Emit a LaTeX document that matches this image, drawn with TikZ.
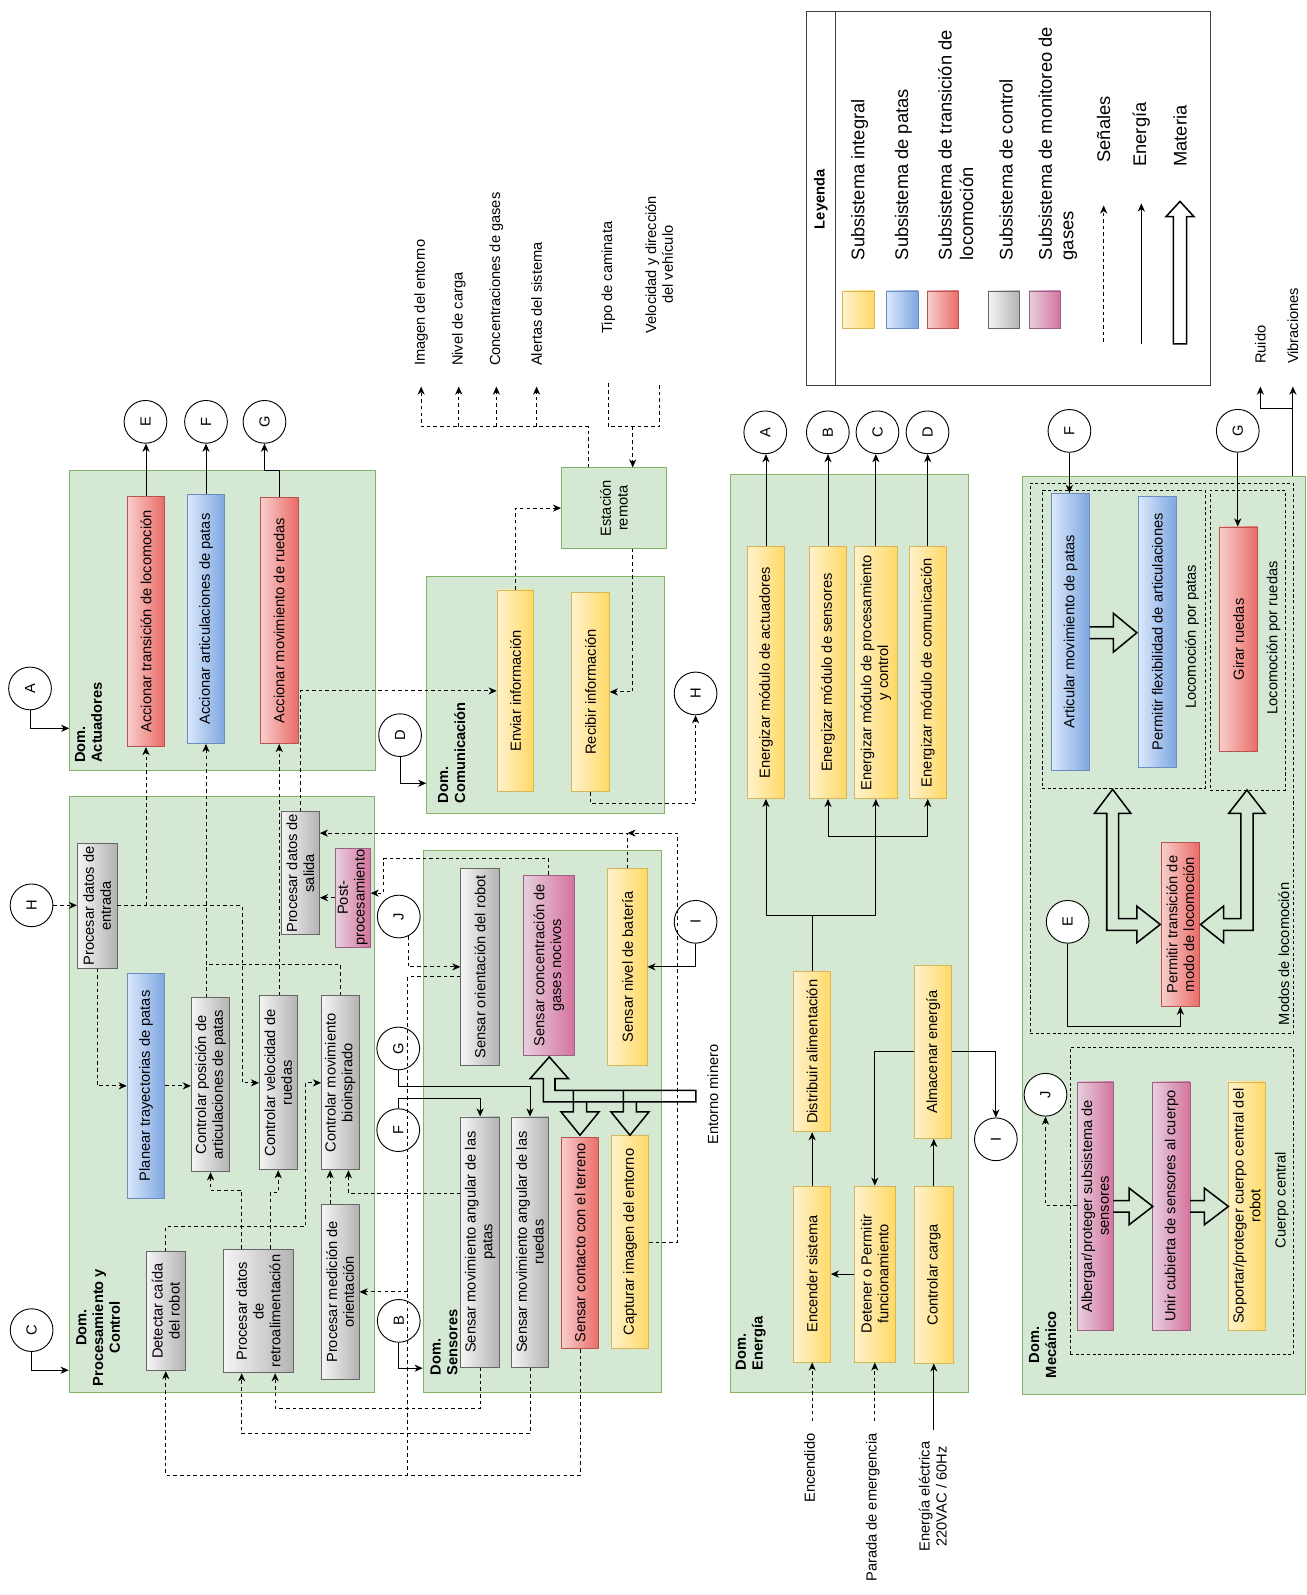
\documentclass[tikz,border=0pt]{standalone}
\usepackage{fontspec}
\setmainfont{Liberation Sans}
\usepackage{graphicx}
\usetikzlibrary{arrows.meta}

\definecolor{domF}{HTML}{D5E8D4}\definecolor{domB}{HTML}{82B366}
\definecolor{yelA}{HTML}{FFF2CC}\definecolor{yelB}{HTML}{FFD966}\definecolor{yelD}{HTML}{D6B656}
\definecolor{redA}{HTML}{F8CECC}\definecolor{redB}{HTML}{EA6B66}\definecolor{redD}{HTML}{B85450}
\definecolor{bluA}{HTML}{DAE8FC}\definecolor{bluB}{HTML}{7EA6E0}\definecolor{bluD}{HTML}{6C8EBF}
\definecolor{gryA}{HTML}{F5F5F5}\definecolor{gryB}{HTML}{B3B3B3}\definecolor{gryD}{HTML}{666666}
\definecolor{pnkA}{HTML}{E6D0DE}\definecolor{pnkB}{HTML}{D5739D}\definecolor{pnkD}{HTML}{996185}

\newcommand\fsn{\fontsize{14.4}{16.5}\selectfont}
\newcommand\fsl{\fontsize{18}{21}\selectfont}

\tikzset{
  fnb/.style={rotate=90, draw, line width=0.8pt, align=center, font=\fsn, inner sep=1pt},
  fYel/.style={fnb, draw=yelD, left color=yelA, right color=yelB},
  fRed/.style={fnb, draw=redD, left color=redA, right color=redB},
  fBlu/.style={fnb, draw=bluD, left color=bluA, right color=bluB},
  fGry/.style={fnb, draw=gryD, left color=gryA, right color=gryB},
  fPnk/.style={fnb, draw=pnkD, left color=pnkA, right color=pnkB},
  dom/.style={draw=domB, fill=domF, line width=0.9pt, inner sep=0pt},
  grp/.style={draw=black, dash pattern=on 3pt off 2.5pt, line width=0.8pt, inner sep=0pt},
  circ/.style={circle, draw, fill=white, line width=0.9pt, minimum size=42pt, inner sep=0pt, font=\fsn},
  sig/.style={line width=0.9pt, dash pattern=on 3.5pt off 3pt},
  en/.style={line width=0.9pt},
  arr/.style={-{Stealth[length=8pt,width=7pt,inset=2.5pt]}},
  mat/.style={line width=1.5pt, line join=miter},
  txt/.style={rotate=90, font=\fsn, inner sep=0pt, align=center},
  dlab/.style={rotate=90, font=\fsn\bfseries, inner sep=0pt},
}

% function box: name, style, centre x, centre y, length (vertical), thickness (horizontal), text
\newcommand\FunBox[7]{\node[#2, minimum width=#5pt, minimum height=#6pt] (#1) at (#3,#4) {#7};}

\begin{document}
\begin{tikzpicture}[x=1pt, y=-1pt]
\useasboundingbox (0,0) rectangle (1284,1568);
\fill[white] (0,0) rectangle (1284,1568);

% ---------------- domains ----------------
\node[dom, minimum width=300.5pt, minimum height=295pt] (domAct) at (218.75,609.5) {};
\node[dom, minimum width=300pt, minimum height=586pt] (domProc) at (218,1076) {};
\node[dom, minimum width=233.5pt, minimum height=233pt] (domCom) at (536.25,683.5) {};
\node[dom, minimum width=234pt, minimum height=533pt] (domSen) at (533,1102.5) {};
\node[dom, minimum width=234pt, minimum height=903pt] (domEne) at (835,917.5) {};
\node[dom, minimum width=278pt, minimum height=903pt] (domMec) at (1144,919.5) {};
\node[dom, rotate=90, minimum width=79pt, minimum height=103pt, font=\fsn, align=center] (station) at (603.5,499.5) {Estación\\remota};

% groups inside the mechanical domain
\node[grp, minimum width=258.9pt, minimum height=540.8pt] (gModos) at (1142.15,745.6) {};
\node[grp, minimum width=160.5pt, minimum height=293pt] (gPatas) at (1104.55,628.5) {};
\node[grp, minimum width=73.8pt, minimum height=294.6pt] (gRuedas) at (1226.6,629.3) {};
\node[grp, minimum width=219.6pt, minimum height=301.6pt] (gCuerpo) at (1161.8,1180.6) {};

% domain titles
\node[dlab, align=left, anchor=west] at (87,750) {Dom.\\Actuadores};
\node[dlab, align=center] at (96.5,1305) {Dom.\\Procesamiento y\\Control};
\node[dlab, align=left, anchor=west] at (444,790) {Dom.\\Comunicación};
\node[dlab, align=left, anchor=west] at (436.5,1352) {Dom.\\Sensores};
\node[dlab, align=left, anchor=west] at (738,1347) {Dom.\\Energía};
\node[dlab, align=center] at (1025,1322) {Dom.\\Mecánico};

% group titles
\node[txt, anchor=west] at (1262,1008) {Modos de locomoción};
\node[txt] at (1171.7,626) {Locomoción por patas};
\node[txt] at (1252,627) {Locomoción por ruedas};
\node[txt] at (1260,1180) {Cuerpo central};

% ---------------- function boxes ----------------
% actuators
\FunBox{aTrans}{fRed}{143.5}{611}{246}{37}{Accionar transición de locomoción}
\FunBox{aArt}{fBlu}{202.5}{608.5}{245}{37}{Accionar articulaciones de patas}
\FunBox{aRue}{fRed}{274.5}{610}{242}{37}{Accionar movimiento de ruedas}
% processing and control
\FunBox{pEnt}{fGry}{95.5}{890.5}{123}{39}{Procesar datos de\\entrada}
\FunBox{pPlan}{fBlu}{143.5}{1067.5}{221}{37}{Planear trayectorias de patas}
\FunBox{pPos}{fGry}{207}{1066.5}{171}{38}{Controlar posición de\\articulaciones de patas}
\FunBox{pVel}{fGry}{273.5}{1064.5}{171}{37}{Controlar velocidad de\\ruedas}
\FunBox{pBio}{fGry}{334.5}{1064.5}{171}{37}{Controlar movimiento\\bioinspirado}
\FunBox{pSal}{fGry}{295.3}{858.5}{121}{37.5}{Procesar datos de\\salida}
\FunBox{pPost}{fPnk}{346.8}{882.5}{97}{34.5}{Post-\\procesamiento}
\FunBox{pCaida}{fGry}{163}{1289}{117}{38}{Detectar caída\\del robot}
\FunBox{pRetro}{fGry}{254}{1288.8}{121.6}{68}{Procesar datos\\de\\retroalimentación}
\FunBox{pMed}{fGry}{334.5}{1270}{172}{37}{Procesar medición de\\orientación}
% communication
\FunBox{cEnv}{fYel}{506.7}{679.2}{198.4}{36}{Enviar información}
\FunBox{cRec}{fYel}{580.5}{680.2}{196.4}{37}{Recibir información}
% sensors
\FunBox{sOri}{fGry}{472}{950.5}{193}{38}{Sensar orientación del robot}
\FunBox{sGas}{fPnk}{539.5}{948.9}{177}{50}{Sensar concentración de\\gases nocivos}
\FunBox{sBat}{fYel}{616.8}{950.5}{193}{38.5}{Sensar nivel de batería}
\FunBox{sPat}{fGry}{472}{1221}{246}{38}{Sensar movimiento angular de las\\patas}
\FunBox{sRue}{fGry}{521}{1221}{246}{37}{Sensar movimiento angular de las\\ruedas}
\FunBox{sCon}{fRed}{570.2}{1221.8}{208}{37}{Sensar contacto con el terreno}
\FunBox{sCap}{fYel}{619.3}{1221}{210}{37}{Capturar imagen del entorno}
% energy
\FunBox{eAct}{fYel}{753}{661.25}{247.5}{36}{Energizar módulo de actuadores}
\FunBox{eSen}{fYel}{814}{661.25}{247.5}{36}{Energizar módulo de sensores}
\FunBox{eProc}{fYel}{861}{661.25}{247.5}{42}{Energizar módulo de procesamiento\\y control}
\FunBox{eCom}{fYel}{912}{661.25}{247.5}{36}{Energizar módulo de comunicación}
\FunBox{eDist}{fYel}{798.4}{1034}{157.3}{36}{Distribuir alimentación}
\FunBox{eAlm}{fYel}{917.4}{1034}{170.4}{36.7}{Almacenar energía}
\FunBox{eEnc}{fYel}{798.4}{1252.5}{173}{36}{Encender sistema}
\FunBox{eDet}{fYel}{860}{1252.5}{173}{40}{Detener o Permitir\\funcionamiento}
\FunBox{eCar}{fYel}{918}{1253}{174}{38}{Controlar carga}
% mechanical
\FunBox{mArt}{fBlu}{1052.5}{621}{272}{37}{Articular movimiento de patas}
\FunBox{mFlex}{fBlu}{1137.8}{621}{266}{37}{Permitir flexibilidad de articulaciones}
\FunBox{mGir}{fRed}{1217.6}{628.5}{221}{37.3}{Girar ruedas}
\FunBox{mTra}{fRed}{1160.4}{908.9}{160.7}{37.6}{Permitir transición de\\modo de locomoción}
\FunBox{mAlb}{fPnk}{1076.7}{1185.7}{244.2}{36}{Albergar/proteger subsistema de\\sensores}
\FunBox{mUni}{fPnk}{1151.7}{1185.7}{244.2}{36.7}{Unir cubierta de sensores al cuerpo}
\FunBox{mSop}{fYel}{1225.7}{1185.7}{244.2}{36.2}{Soportar/proteger cuerpo central del\\robot}

% ---------------- off-page connectors ----------------
\node[circ] (cA1) at (29.5,676.8) {\rotatebox{90}{A}};
\node[circ] (cC1) at (31.1,1307.6) {\rotatebox{90}{C}};
\node[circ] (cH1) at (31,890) {\rotatebox{90}{H}};
\node[circ] (cE1) at (143,414.7) {\rotatebox{90}{E}};
\node[circ] (cF1) at (202.5,414.7) {\rotatebox{90}{F}};
\node[circ] (cG1) at (260,414.7) {\rotatebox{90}{G}};
\node[circ] (cD1) at (393.3,722.7) {\rotatebox{90}{D}};
\node[circ] (cJ1) at (392,901) {\rotatebox{90}{J}};
\node[circ] (cG2) at (391.5,1030.7) {\rotatebox{90}{G}};
\node[circ] (cF2) at (391.5,1111) {\rotatebox{90}{F}};
\node[circ] (cB1) at (392,1298.5) {\rotatebox{90}{B}};
\node[circ] (cH2) at (683.8,681.7) {\rotatebox{90}{H}};
\node[circ] (cI1) at (683.8,906.2) {\rotatebox{90}{I}};
\node[circ] (cA2) at (752.3,425) {\rotatebox{90}{A}};
\node[circ] (cB2) at (813.8,425) {\rotatebox{90}{B}};
\node[circ] (cC2) at (862.6,425) {\rotatebox{90}{C}};
\node[circ] (cD2) at (911.8,425) {\rotatebox{90}{D}};
\node[circ] (cI2) at (979,1120) {\rotatebox{90}{I}};
\node[circ] (cF3) at (1051.3,423.6) {\rotatebox{90}{F}};
\node[circ] (cG3) at (1216.8,423.5) {\rotatebox{90}{G}};
\node[circ] (cE3) at (1049.6,906.2) {\rotatebox{90}{E}};
\node[circ] (cJ3) at (1027.8,1076.2) {\rotatebox{90}{J}};

% ---------------- external inputs and outputs ----------------
\node[txt, anchor=west] (oImg) at (414,360) {Imagen del entorno};
\node[txt, anchor=west] (oNiv) at (451,360) {Nivel de carga};
\node[txt, anchor=west] (oCon) at (488,360) {Concentraciones de gases};
\node[txt, anchor=west] (oAle) at (527.5,360) {Alertas del sistema};
\node[txt, anchor=west] (iTip) at (598,328) {Tipo de caminata};
\node[txt, anchor=west] (iVel) at (648,328) {Velocidad y dirección\\del vehículo};
\node[txt, anchor=west] (oRui) at (1239,358) {Ruido};
\node[txt, anchor=west] (oVib) at (1271,358) {Vibraciones};
\node[txt, anchor=east] (iEnc) at (796,1409) {Encendido};
\node[txt, anchor=east] (iPar) at (858,1409) {Parada de emergencia};
\node[txt, anchor=east] (iEle) at (917,1417) {Energía eléctrica\\220VAC / 60Hz};
\node[txt] (envMin) at (700.7,1076) {Entorno minero};

% ---------------- connectors: actuators ----------------
\draw[en,arr] (aTrans.east) -- (aTrans.east |- cE1.south);
\draw[en,arr] (aArt.east) -- (aArt.east |- cF1.south);
\draw[en,arr] (aRue.east) -- (aRue.east |- 0,462) -| (cG1.south);
\draw[en,arr] (cA1.south) |- (domAct.west |- 0,716);
\draw[en,arr] (cC1.south) |- (domProc.west |- 0,1347);
\draw[en,arr] (cD1.south) |- (domCom.west |- 0,770);
\draw[en,arr] (cB1.south) |- (domSen.west |- 0,1345);

% ---------------- connectors: processing ----------------
\draw[sig,arr] (cH1.east) -- (pEnt.north |- cH1.east);
\draw[sig,arr] (pEnt.south) -- (238,890.5) |- (pVel.north);
\draw[sig,arr] (aTrans.west |- pEnt.south) -- (aTrans.west);
\draw[sig,arr] (pEnt.west) |- (pPlan.north);
\draw[sig,arr] (pPlan.south) -- (pPos.north |- pPlan.south);
\draw[sig,arr] (aArt.west |- pPos.east) -- (aArt.west);
\draw[sig] (pBio.east) |- (aArt.west |- 0,948);
\draw[sig,arr] (aRue.west |- pVel.east) -- (aRue.west);
\draw[sig,arr] (pSal.east) |- (cEnv.north);
\draw[sig,arr] (pRetro.east -| 237.6,0) -- (237.6,1170) -| (pPos.west);
\draw[sig,arr] (pRetro.east -| 266,0) -- (266,1172) -| (pVel.west);
\draw[sig,arr] (pCaida.east) |- (300,1206) |- (pBio.north);
\draw[sig,arr] (pMed.east -| 324.5,0) -- (pBio.west -| 324.5,0);
\draw[sig,arr] (pPost.north) -- (pSal.south |- pPost.north);

% ---------------- connectors: sensors ----------------
\draw[sig,arr] (sPat.north |- 0,1173) -| (pBio.west -| 342.5,0);
\draw[sig,arr] (sPat.west) |- (270.5,1384.6) -- (pRetro.west -| 270.5,0);
\draw[sig,arr] (sRue.west) |- (237.6,1409) -- (pRetro.west -| 237.6,0);
\draw[sig,arr] (sCon.west) |- (163,1450) -- (pCaida.west);
\draw[sig] (sOri.north |- 0,960) -| (401,1450);
\draw[sig,arr] (401,1270) -- (pMed.south);
\draw[sig,arr] (cJ1.-65) |- (sOri.north |- 0,950.5);
\draw[en,arr] (cG2.south) |- (sRue.east |- 0,1068) -- (sRue.east);
\draw[en,arr] (cF2.north) |- (sPat.east |- 0,1080) -- (sPat.east);
\draw[en,arr] (cI1.south) |- (sBat.south |- 0,950.5);
\draw[sig,arr] (sGas.east) |- (377,844) |- (pPost.south |- 0,878);
\draw[sig,arr] (sBat.east) |- (pSal.south |- 0,819);
\draw[sig,arr] (sCap.south) -| (666,819) -- (sBat.east |- 0,819);

% material from the mining environment
\draw[mat] (684,1071.8) -- (545.6,1071.8) -- (545.6,1060.3) -- (558.8,1060.3) -- (540,1039) -- (521.2,1060.3) -- (534.2,1060.3) -- (534.2,1083.2) -- (684,1083.2) -- cycle;
\draw[mat] (563.7,1071.8) -- (563.7,1093) -- (551.5,1093) -- (570.2,1116) -- (588.9,1093) -- (576.7,1093) -- (576.7,1083.2);
\draw[mat] (612.9,1071.8) -- (612.9,1093) -- (600.6,1093) -- (619.3,1116) -- (638,1093) -- (625.7,1093) -- (625.7,1083.2);

% ---------------- connectors: communication ----------------
\draw[sig,arr] (cEnv.east) |- (station.north);
\draw[sig,arr] (station.west -| 622,0) |- (cRec.south);
\draw[sig,arr] (cRec.west) |- (cH2.south |- 0,790) -- (cH2.south);
\draw[sig,arr] (station.east -| 578,0) |- (414,419.5) -- ([yshift=-20pt]oImg.west);
\draw[sig,arr] (oNiv.west |- 0,419.5) -- ([yshift=-20pt]oNiv.west);
\draw[sig,arr] (oCon.west |- 0,419.5) -- ([yshift=-20pt]oCon.west);
\draw[sig,arr] (oAle.west |- 0,419.5) -- ([yshift=-20pt]oAle.west);
\draw[sig] ([yshift=-49pt]iTip.west) |- (iVel.west |- 0,419.5) -- ([yshift=-49pt]iVel.west);
\draw[sig,arr] (622,419.5) -- (station.east -| 622,0);

% ---------------- connectors: energy ----------------
\draw[en,arr] (eAct.east) -- (eAct.east |- cA2.south);
\draw[en,arr] (eSen.east) -- (eSen.east |- cB2.south);
\draw[en,arr] (eProc.east) -- (eProc.east |- cC2.south);
\draw[en,arr] (eCom.east) -- (eCom.east |- cD2.south);
\draw[en] (eDist.east) -- (eDist.east |- 0,899.7);
\draw[en,arr] (eDist.east |- 0,899.7) -| (eAct.west);
\draw[en,arr] (eDist.east |- 0,899.7) -| (eProc.west);
\draw[en,arr] (eProc.west |- 0,822.7) -| (eSen.west);
\draw[en,arr] (eProc.west |- 0,822.7) -| (eCom.west);
\draw[en,arr] (eEnc.east) -- (eDist.west);
\draw[en,arr] (eCar.east) -- (eCar.east |- eAlm.west);
\draw[en,arr] (eAlm.north) -| (eDet.east);
\draw[en,arr] (eAlm.south) -| (cI2.north);
\draw[en,arr] (eDet.north) -- (eEnc.south);
\draw[sig,arr] (eEnc.west |- 0,1397) -- (eEnc.west);
\draw[sig,arr] (eDet.west |- 0,1397) -- (eDet.west);
\draw[en,arr] (eCar.west |- 0,1406) -- (eCar.west);

% ---------------- connectors: mechanics ----------------
\draw[en,arr] (cF3.south) -- (cF3.south |- mArt.east);
\draw[en,arr] (cG3.south) -- (cG3.south |- mGir.east);
\draw[en,arr] (cE3.south) |- (mTra.west |- 0,1009.5) -- (mTra.west);
\draw[sig,arr] (mAlb.north |- 0,1185) -| (cJ3.south);
\draw[en,arr] (domMec.north -| 1271,0) -- ([yshift=-22pt]oVib.west);
\draw[en,arr] (1271,401.5) -| ([yshift=-22pt]oRui.west);

\draw[mat] (1071.1,616.3) -- (1094.6,616.3) -- (1094.6,603) -- (1117.6,622) -- (1094.6,641) -- (1094.6,627.7) -- (1071.1,627.7);
\draw[mat] (1093.8,776) -- (1111.8,799.7) -- (1099.6,799.7) -- (1099.6,903) -- (1117.6,903) -- (1117.6,890.8) -- (1140.6,908.8) -- (1117.6,926.8) -- (1117.6,914.6) -- (1088,914.6) -- (1088,799.7) -- (1075.8,799.7) -- cycle;
\draw[mat] (1225.8,776.6) -- (1243.8,799.7) -- (1231.8,799.7) -- (1231.8,914.6) -- (1202.8,914.6) -- (1202.8,926.8) -- (1180.2,908.8) -- (1202.8,890.8) -- (1202.8,903) -- (1219.8,903) -- (1219.8,799.7) -- (1207.8,799.7) -- cycle;
\draw[mat] (1094.6,1180.3) -- (1110,1180.3) -- (1110,1168) -- (1133.3,1186) -- (1110,1204) -- (1110,1191.7) -- (1094.6,1191.7);
\draw[mat] (1170,1180.3) -- (1184,1180.3) -- (1184,1168) -- (1207.6,1186) -- (1184,1204) -- (1184,1191.7) -- (1170,1191.7);

% ---------------- legend ----------------
\node[draw=black!75, line width=0.9pt, minimum width=397pt, minimum height=367.1pt, inner sep=0pt] (legend) at (991.5,195.05) {};
\draw[black!75, line width=0.9pt] (legend.north -| 821,0) -- (legend.south -| 821,0);
\node[dlab] at (807,196) {Leyenda};
\node[fYel, minimum width=37pt, minimum height=31pt] (swY) at (844,304.5) {};
\node[fBlu, minimum width=37pt, minimum height=31pt] (swB) at (887,304.5) {};
\node[fRed, minimum width=37pt, minimum height=31pt] (swR) at (927,304.5) {};
\node[fGry, minimum width=37pt, minimum height=31pt] (swG) at (987,304.5) {};
\node[fPnk, minimum width=37pt, minimum height=31pt] (swP) at (1027,304.5) {};
\node[txt, font=\fsl, anchor=west, align=left] at (845,256) {Subsistema integral};
\node[txt, font=\fsl, anchor=west, align=left] at (888,256) {Subsistema de patas};
\node[txt, font=\fsl, anchor=west, align=left] at (939.5,256) {Subsistema de transición de\\locomoción};
\node[txt, font=\fsl, anchor=west, align=left] at (989,256) {Subsistema de control};
\node[txt, font=\fsl, anchor=west, align=left] at (1040,256) {Subsistema de monitoreo de\\gases};
\node[txt, font=\fsl, anchor=west] at (1085,160) {Señales};
\node[txt, font=\fsl, anchor=west] at (1122,164) {Energía};
\node[txt, font=\fsl, anchor=west] at (1160,164) {Materia};
\draw[sig,arr] (1085,336) -- (1085,202);
\draw[en,arr] (1122,338) -- (1122,200);
\draw[mat] (1153.5,338) -- (1153.5,213) -- (1146.2,213) -- (1160,198) -- (1173.8,213) -- (1166.5,213) -- (1166.5,338) -- cycle;

\end{tikzpicture}
\end{document}
